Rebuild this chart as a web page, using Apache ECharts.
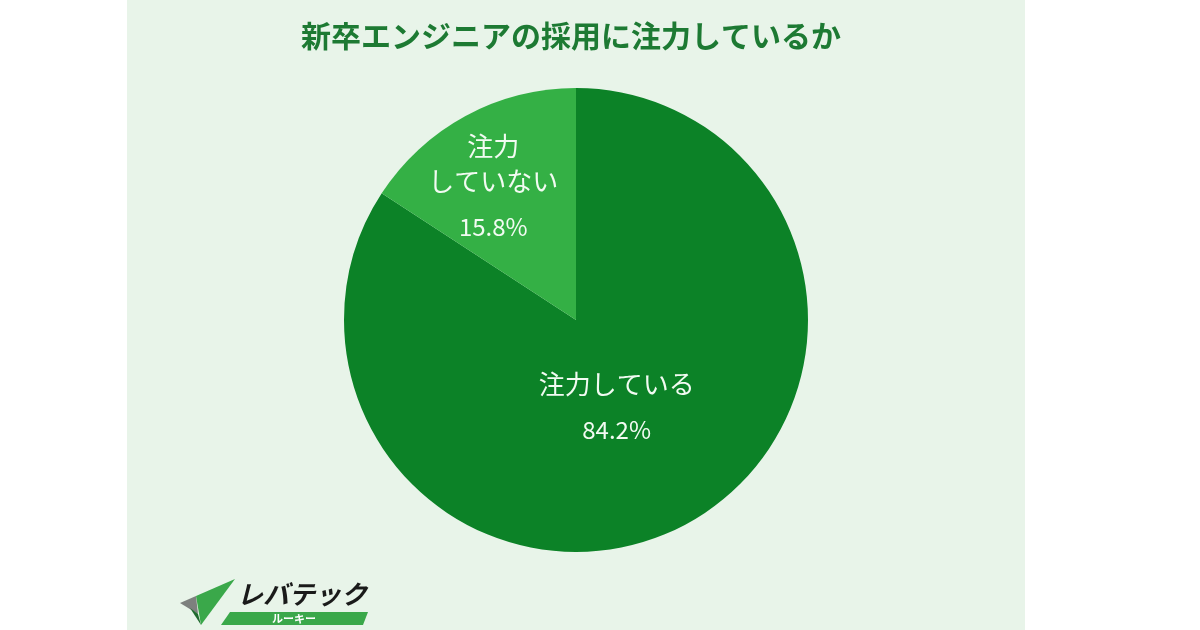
<!DOCTYPE html>
<html>
<head>
<meta charset="utf-8">
<script src="https://cdn.jsdelivr.net/npm/echarts@6/dist/echarts.min.js"></script>
<style>
html,body{margin:0;padding:0;background:#ffffff;}
#chart{width:1200px;height:630px;}
</style>
</head>
<body>
<div id="chart"></div>
<script>
var titleText = '新卒エンジニアの採用に注力しているか';
var categories = ['注力している', '注力\nしていない'];
var values = [84.2, 15.8];
var sliceColors = ['#0c8227', '#34b045'];
var labelOffsets = [[-16, -12], [-26, -23]];

var chart = echarts.init(document.getElementById('chart'));
var font = '"Noto Sans CJK JP", "Noto Sans", sans-serif';

var data = categories.map(function (c, i) {
  return {
    name: c,
    value: values[i],
    itemStyle: { color: sliceColors[i] },
    label: { offset: labelOffsets[i] }
  };
});

chart.setOption({
  backgroundColor: '#ffffff',
  animation: false,
  title: {
    text: titleText,
    left: 296,
    top: 16,
    textStyle: { fontFamily: font, fontSize: 30, fontWeight: 'bold', color: '#1d7a33' }
  },
  graphic: [
    { type: 'rect', z: -10, shape: { x: 127, y: 0, width: 898, height: 630 }, style: { fill: '#e8f4e9' } },
    // logo mark
    { type: 'polygon', shape: { points: [[180, 603], [235, 579], [196, 596]] }, style: { fill: '#c9cfca' } },
    { type: 'polygon', shape: { points: [[180, 603], [196, 596], [198, 614]] }, style: { fill: '#7d807e' } },
    { type: 'polygon', shape: { points: [[196, 596], [235, 579], [201, 625]] }, style: { fill: '#3aa84a' } },
    { type: 'polygon', shape: { points: [[190, 608], [198, 614], [201, 625]] }, style: { fill: '#1f6a2e' } },
    { type: 'text', style: { text: 'レバテック', x: 237, y: 594, fill: '#1a1a1a', font: 'italic bold 26px ' + font, textVerticalAlign: 'middle' } },
    { type: 'polygon', shape: { points: [[230, 612], [368, 612], [363, 625], [221, 625]] }, style: { fill: '#3aa84a' } },
    { type: 'text', style: { text: 'ルーキー', x: 294, y: 619, fill: '#ffffff', font: 'bold 11px ' + font, textAlign: 'center', textVerticalAlign: 'middle' } }
  ],
  series: [{
    type: 'pie',
    center: [576, 320],
    radius: [0, 232],
    startAngle: 90,
    clockwise: true,
    emphasis: { disabled: true },
    itemStyle: { borderWidth: 0 },
    label: {
      show: true,
      position: 'inside',
      formatter: function (p) { return '{n|' + p.name + '}\n{v|' + p.value.toFixed(1) + '%}'; },
      rich: {
        n: { fontFamily: font, fontSize: 26, color: '#f2fbf2', lineHeight: 35, align: 'center' },
        v: { fontFamily: font, fontSize: 24, color: '#f2fbf2', lineHeight: 57, align: 'center' }
      }
    },
    labelLine: { show: false },
    data: data
  }]
});
</script>
</body>
</html>
